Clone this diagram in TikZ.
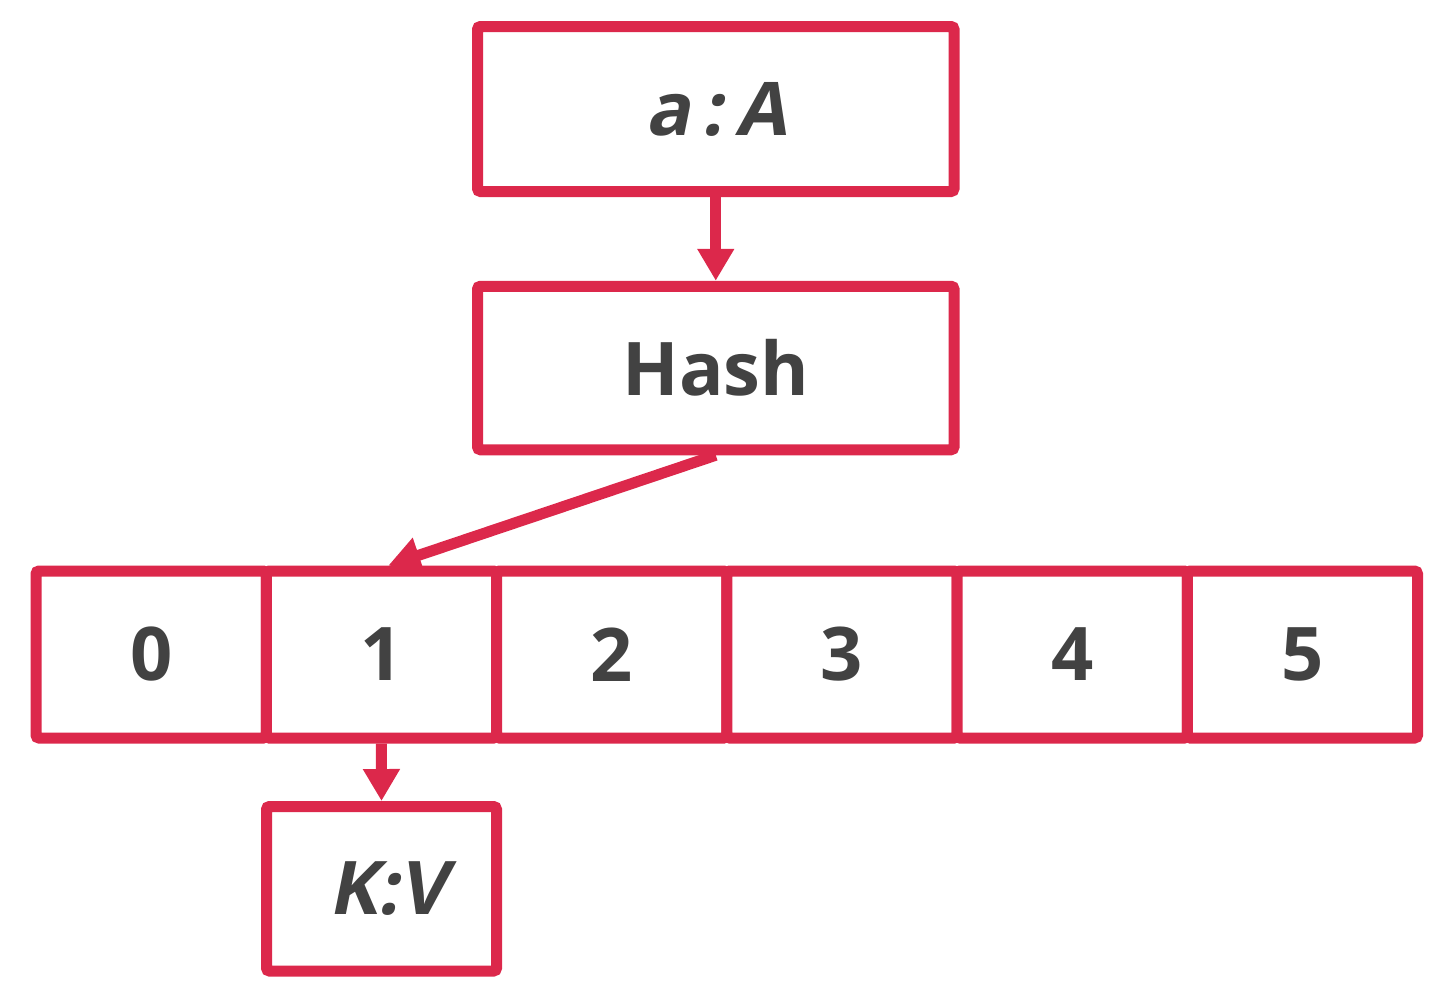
\documentclass[tikz,border=0pt]{standalone}
\usepackage{fontspec}
\setmainfont{Open Sans}
\newfontfamily\oblfont{Open Sans Bold}[FakeSlant=0.2]
\usetikzlibrary{arrows.meta,calc}
\definecolor{boxred}{RGB}{220,40,75}
\definecolor{txt}{RGB}{66,66,66}
\tikzset{
  box/.style={draw=boxred, line width=5.5pt, rounded corners=1.5pt, fill=white,
    text=txt, font=\fontsize{37}{40}\selectfont\bfseries, inner sep=0pt},
  oblique/.style={font=\fontsize{37}{40}\selectfont\oblfont},
  cellbox/.style={box, minimum width=115.125pt, minimum height=83.5pt},
  conn/.style={draw=boxred, line width=5.5pt,
    -{Triangle[width=17.5pt,length=16pt]}}
}
\begin{document}
\begin{tikzpicture}[x=0.5pt,y=-0.5pt]
\useasboundingbox (0,0) rectangle (1454,996);
\node[box, oblique, minimum width=238.25pt, minimum height=82.5pt] (top) at (715.75,109) {a\,:\,A};
\node[box, minimum width=238.25pt, minimum height=81.75pt] (hash) at (715.75,368) {Hash};
\foreach \i in {0,...,5}{
  \node[cellbox] (c\i) at ({36+230.25*(\i+0.5)},654.5) {\i};
}
\node[box, oblique, minimum width=115pt, minimum height=82.25pt] (kv) at (381.5,888.75) {\hspace{6pt}K:V};
\draw[conn] (top.south) -- (hash.north);
\draw[conn] (hash.south) -- ($(c1.north)+(7,0)$);
\draw[conn] (c1.south) -- (kv.north);
\end{tikzpicture}
\end{document}
